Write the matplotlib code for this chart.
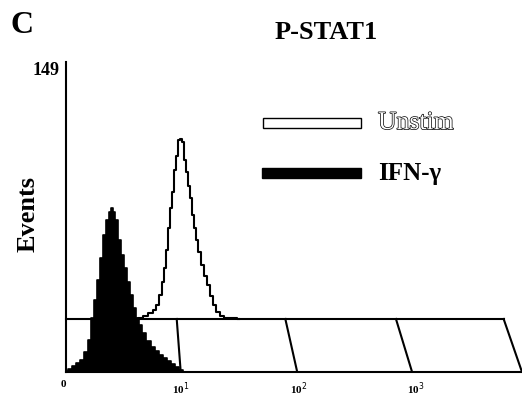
import matplotlib
matplotlib.use("Agg")
import matplotlib.pyplot as plt
import matplotlib.patheffects as pe
from matplotlib.patches import Rectangle
import numpy as np

plt.rcParams['font.family'] = ['Liberation Serif', 'DejaVu Serif']

# fluorescence axis in decades (front floor scale), counts per channel
ifn_dec = [0.026, 0.06, 0.094, 0.128, 0.162, 0.197, 0.222, 0.248, 0.274, 0.299,
           0.325, 0.350, 0.376, 0.402, 0.419, 0.436, 0.453, 0.479, 0.504, 0.530,
           0.556, 0.581, 0.607, 0.632, 0.658, 0.692, 0.726, 0.761, 0.795, 0.829,
           0.863, 0.897, 0.932, 0.966, 1.0, 1.034]
ifn_cnt = [0.5, 1.5, 2.9, 4.4, 5.9, 9.8, 15.7, 26.5, 35.3, 45.1,
           55.9, 67.2, 74.5, 78.4, 80.4, 78.4, 74.5, 64.7, 57.4, 51.0,
           44.1, 37.7, 31.4, 26.5, 23.0, 19.1, 15.2, 12.3, 10.3, 8.3,
           6.9, 5.4, 3.9, 2.5, 1.0, 0.0]

unstim_dec = [0.615, 0.658, 0.701, 0.744, 0.778, 0.803, 0.829, 0.846, 0.863, 0.880,
              0.897, 0.915, 0.932, 0.949, 0.966, 0.983, 1.0, 1.017, 1.034, 1.051,
              1.068, 1.085, 1.103, 1.120, 1.137, 1.162, 1.188, 1.214, 1.239, 1.265,
              1.291, 1.316, 1.350, 1.393, 1.462, 1.496]
unstim_cnt = [0.0, 0.5, 1.5, 2.9, 4.4, 6.9, 11.8, 18.1, 25.0, 33.8,
              44.6, 54.4, 62.3, 73.0, 79.9, 87.7, 88.2, 86.8, 77.9, 72.1,
              65.2, 59.3, 51.0, 44.6, 38.7, 32.8, 26.5, 21.1, 16.7, 11.3,
              6.9, 3.4, 1.5, 0.5, 0.5, 0.0]

# 3-D floor: back edge raised by FLOOR_LIFT counts
FLOOR_LIFT = 26
floor_back = [0.966, 1.889, 2.829, 3.744]
floor_front = [1.0, 1.99, 2.966, 3.9]

tick_pos = [0, 1, 2, 3]
tick_lab = ["0", "10$^{1}$", "10$^{2}$", "10$^{3}$"]
YMAX = 149

fig = plt.figure(figsize=(5.22, 3.97), dpi=100)
ax = fig.add_axes([59.5 / 522, 25 / 397, 462.5 / 522, 310 / 397])
ax.set_xlim(-0.03, 3.9)
ax.set_ylim(0, 152)

# floor grid
x0 = 0.026
ax.plot([x0, floor_back[-1]], [FLOOR_LIFT, FLOOR_LIFT], color="black", lw=1.5, zorder=3)
for b, f in zip(floor_back, floor_front):
    ax.plot([b, f], [FLOOR_LIFT, 0], color="black", lw=1.5, zorder=3)

# unstimulated (back row)
u_x = np.array(unstim_dec)
u_y = np.array(unstim_cnt) + FLOOR_LIFT
ax.fill_between(u_x, FLOOR_LIFT, u_y, step="mid", color="white", zorder=2)
ax.step(u_x, u_y, where="mid", color="black", lw=1.5, zorder=4)

# IFN-gamma (front row)
i_x = np.array(ifn_dec)
i_y = np.array(ifn_cnt)
ax.fill_between(i_x, 0, i_y, step="mid", color="black", lw=0, zorder=5)
ax.step(i_x, i_y, where="mid", color="black", lw=1.2, zorder=5)

for s in ["top", "right"]:
    ax.spines[s].set_visible(False)
ax.spines["left"].set_position(("data", x0))
ax.spines["left"].set_linewidth(1.5)
ax.spines["bottom"].set_linewidth(1.5)
ax.spines["bottom"].set_bounds(x0, 3.9)

ax.set_xticks(tick_pos)
ax.set_xticklabels(tick_lab, fontsize=8, fontweight="bold")
ax.set_yticks([YMAX])
ax.set_yticklabels([str(YMAX)], fontsize=13, fontweight="bold")
ax.tick_params(length=0, pad=6)
ax.tick_params(axis="y", pad=5)

# legend
fig.patches.append(Rectangle((263 / 522, 269 / 397), 98 / 522, 10 / 397,
                             transform=fig.transFigure, facecolor="white",
                             edgecolor="black", lw=1.0))
fig.patches.append(Rectangle((262 / 522, 219 / 397), 99 / 522, 10 / 397,
                             transform=fig.transFigure, facecolor="black",
                             edgecolor="black", lw=1.0))
fig.text(378 / 522, 0.690, "Unstim", fontsize=18.5, color="white", va="center",
         path_effects=[pe.Stroke(linewidth=1.0, foreground="black"), pe.Normal()])
fig.text(378 / 522, 0.562, "IFN-γ", fontsize=18, fontweight="bold", va="center")

fig.text(0.625, 0.917, "P-STAT1", fontsize=19, fontweight="bold", ha="center", va="center")
fig.text(0.021, 0.936, "C", fontsize=23, fontweight="bold", ha="left", va="center")
fig.text(0.054, 0.461, "Events", fontsize=19, fontweight="bold", rotation=90,
         ha="center", va="center")

fig.savefig("out.png", dpi=100)
